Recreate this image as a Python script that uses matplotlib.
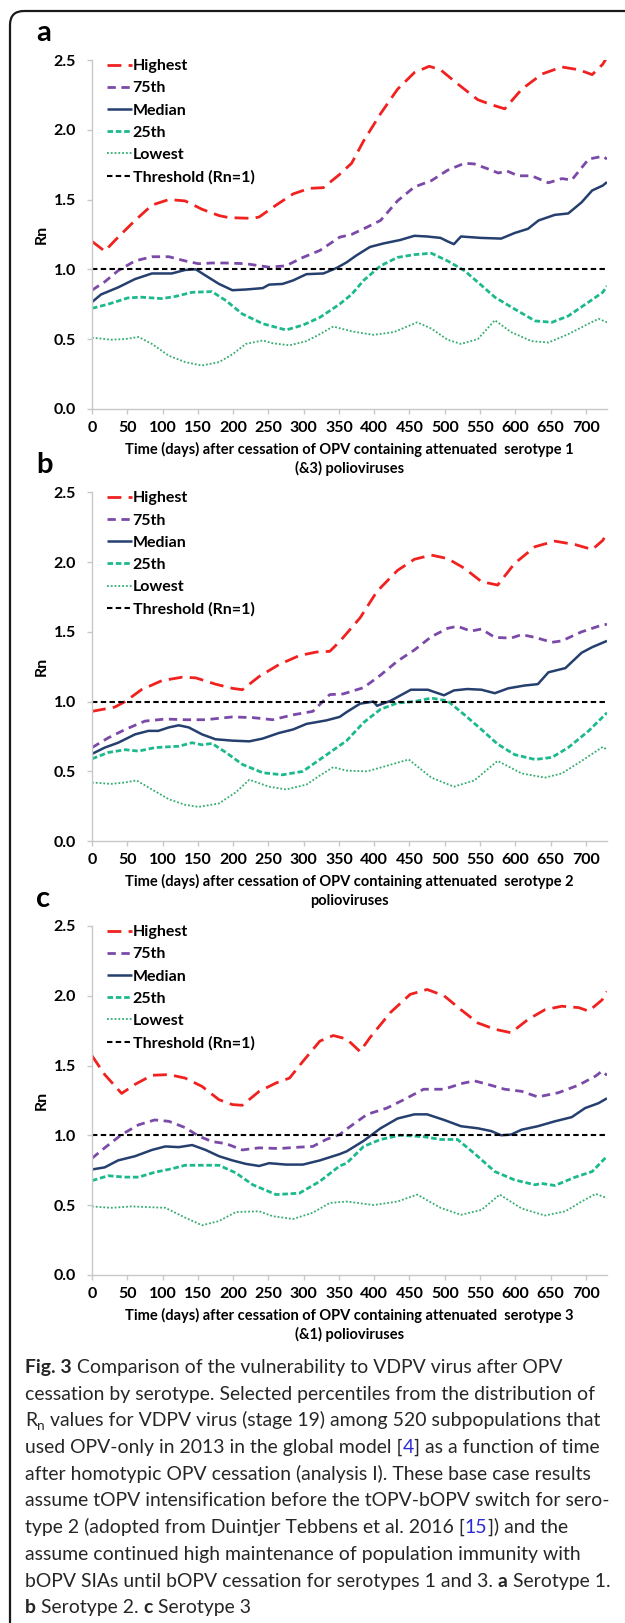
import matplotlib
matplotlib.use("Agg")
import matplotlib.pyplot as plt
from matplotlib.patches import FancyBboxPatch

plt.rcParams['font.family'] = ['Lato', 'DejaVu Sans']

W, H = 625, 1623

# ---- panel a : serotype 1 ----
A_HIGH_DAY = [0, 18, 37, 61, 85, 109, 132, 156, 180, 194, 228, 237, 261, 285, 308, 328, 351, 368, 385, 409, 433, 457,
              478, 494, 518, 547, 566, 585, 609, 638, 666, 690, 709, 724, 730]
A_HIGH = [1.20, 1.13, 1.23, 1.35, 1.46, 1.50, 1.49, 1.43, 1.385, 1.37, 1.365, 1.375, 1.46, 1.54, 1.58, 1.585, 1.68, 1.76,
          1.92, 2.115, 2.29, 2.41, 2.455, 2.43, 2.33, 2.215, 2.18, 2.15, 2.29, 2.40, 2.45, 2.43, 2.395, 2.47, 2.52]
A_P75_DAY = [0, 18, 37, 61, 85, 109, 132, 151, 170, 190, 218, 251, 275, 299, 323, 351, 368, 385, 409, 433, 457, 481,
             504, 528, 542, 561, 576, 588, 604, 623, 647, 666, 680, 704, 724, 730]
A_P75 = [0.85, 0.91, 0.99, 1.06, 1.09, 1.09, 1.06, 1.04, 1.045, 1.045, 1.04, 1.015, 1.025, 1.085, 1.135, 1.23, 1.25,
         1.29, 1.35, 1.49, 1.59, 1.635, 1.71, 1.76, 1.755, 1.72, 1.69, 1.705, 1.67, 1.67, 1.62, 1.65, 1.64, 1.79, 1.81,
         1.79]
A_MED_DAY = [0, 13, 37, 61, 85, 113, 132, 147, 161, 180, 199, 218, 242, 251, 270, 285, 304, 328, 347, 361, 375, 394,
             413, 437, 457, 475, 494, 504, 513, 523, 551, 580, 599, 618, 633, 656, 675, 694, 709, 724, 730]
A_MED = [0.765, 0.82, 0.87, 0.93, 0.97, 0.97, 0.995, 1.0, 0.955, 0.895, 0.85, 0.855, 0.865, 0.89, 0.895, 0.92, 0.965,
         0.97, 1.01, 1.05, 1.10, 1.16, 1.185, 1.21, 1.24, 1.235, 1.225, 1.20, 1.18, 1.235, 1.225, 1.22, 1.26, 1.29,
         1.35, 1.39, 1.40, 1.48, 1.565, 1.60, 1.625]
A_P25_DAY = [0, 23, 51, 70, 99, 118, 142, 170, 190, 213, 242, 275, 299, 323, 351, 368, 385, 409, 433, 457, 481, 504,
             528, 552, 571, 599, 628, 652, 675, 704, 724, 730]
A_P25 = [0.72, 0.75, 0.795, 0.80, 0.79, 0.805, 0.835, 0.84, 0.775, 0.68, 0.61, 0.565, 0.60, 0.655, 0.75, 0.82, 0.92,
         1.025, 1.085, 1.105, 1.115, 1.06, 0.99, 0.885, 0.80, 0.715, 0.63, 0.62, 0.665, 0.765, 0.835, 0.88]
A_LOW_DAY = [0, 27, 47, 66, 85, 109, 132, 156, 180, 199, 218, 242, 256, 280, 304, 323, 342, 368, 399, 428, 461, 481,
             504, 523, 547, 571, 594, 623, 647, 675, 704, 718, 730]
A_LOW = [0.51, 0.495, 0.50, 0.515, 0.465, 0.38, 0.335, 0.31, 0.335, 0.39, 0.465, 0.49, 0.47, 0.455, 0.485, 0.535,
         0.59, 0.555, 0.53, 0.55, 0.62, 0.575, 0.495, 0.465, 0.50, 0.635, 0.55, 0.485, 0.475, 0.535, 0.61, 0.645, 0.62]

# ---- panel b : serotype 2 ----
B_HIGH_DAY = [0, 32, 47, 70, 99, 128, 147, 175, 199, 213, 237, 265, 294, 318, 337, 351, 380, 404, 433, 457, 481, 504,
              528, 552, 575, 599, 628, 656, 685, 709, 724, 730]
B_HIGH = [0.93, 0.96, 1.0, 1.085, 1.15, 1.175, 1.17, 1.125, 1.095, 1.085, 1.18, 1.265, 1.33, 1.355, 1.36, 1.43, 1.60,
          1.79, 1.94, 2.02, 2.05, 2.025, 1.955, 1.86, 1.835, 1.99, 2.11, 2.15, 2.125, 2.09, 2.155, 2.21]
B_P75_DAY = [0, 23, 47, 75, 104, 132, 161, 199, 228, 256, 285, 313, 337, 356, 385, 409, 433, 457, 481, 504, 518, 537,
             552, 571, 594, 609, 628, 652, 666, 694, 718, 730]
B_P75 = [0.67, 0.74, 0.80, 0.86, 0.875, 0.87, 0.87, 0.89, 0.885, 0.87, 0.905, 0.93, 1.05, 1.055, 1.10, 1.19, 1.29,
         1.37, 1.465, 1.525, 1.54, 1.505, 1.52, 1.46, 1.455, 1.48, 1.46, 1.425, 1.435, 1.50, 1.54, 1.555]
B_MED_DAY = [0, 18, 37, 61, 80, 94, 109, 123, 137, 156, 175, 199, 223, 242, 265, 285, 304, 332, 351, 361, 380, 399,
             404, 423, 452, 476, 499, 513, 532, 552, 571, 590, 613, 632, 647, 671, 694, 709, 730]
B_MED = [0.625, 0.67, 0.705, 0.765, 0.79, 0.79, 0.815, 0.83, 0.815, 0.765, 0.73, 0.72, 0.715, 0.735, 0.775, 0.80,
         0.84, 0.865, 0.89, 0.925, 0.985, 1.0, 0.97, 1.005, 1.085, 1.085, 1.045, 1.08, 1.09, 1.085, 1.06, 1.095, 1.115,
         1.125, 1.21, 1.24, 1.35, 1.39, 1.435]
B_P25_DAY = [0, 23, 47, 66, 89, 123, 142, 156, 170, 190, 213, 242, 270, 299, 323, 347, 361, 385, 409, 433, 457, 481,
             504, 528, 552, 575, 599, 628, 652, 675, 704, 730]
B_P25 = [0.59, 0.635, 0.655, 0.645, 0.67, 0.68, 0.705, 0.69, 0.70, 0.635, 0.55, 0.49, 0.475, 0.50, 0.585, 0.67, 0.72,
         0.85, 0.945, 0.99, 1.0, 1.025, 1.005, 0.905, 0.80, 0.695, 0.62, 0.585, 0.60, 0.67, 0.79, 0.92]
B_LOW_DAY = [0, 27, 47, 63, 85, 109, 132, 151, 180, 204, 223, 251, 275, 304, 323, 342, 361, 390, 418, 449, 481, 513,
             542, 575, 609, 642, 666, 694, 724, 730]
B_LOW = [0.42, 0.41, 0.42, 0.435, 0.37, 0.30, 0.26, 0.245, 0.27, 0.35, 0.44, 0.39, 0.37, 0.405, 0.47, 0.53, 0.505,
         0.50, 0.54, 0.585, 0.455, 0.39, 0.435, 0.575, 0.485, 0.455, 0.485, 0.575, 0.675, 0.655]

# ---- panel c : serotype 3 ----
C_HIGH_DAY = [0, 18, 42, 61, 85, 109, 132, 156, 180, 199, 213, 237, 261, 280, 299, 323, 342, 361, 380, 394, 423, 451,
              475, 499, 523, 547, 571, 594, 618, 642, 666, 690, 704, 723, 730]
C_HIGH = [1.57, 1.435, 1.30, 1.365, 1.43, 1.435, 1.41, 1.35, 1.255, 1.22, 1.215, 1.315, 1.375, 1.41, 1.53, 1.675,
          1.715, 1.69, 1.60, 1.70, 1.88, 2.01, 2.045, 2.0, 1.90, 1.805, 1.76, 1.735, 1.83, 1.90, 1.925, 1.915, 1.89,
          1.97, 2.03]
C_P75_DAY = [0, 18, 42, 66, 89, 109, 132, 151, 170, 190, 213, 237, 265, 294, 313, 332, 351, 361, 390, 418, 442, 470,
             499, 523, 542, 561, 585, 609, 632, 661, 690, 714, 723, 730]
C_P75 = [0.835, 0.91, 1.005, 1.075, 1.11, 1.10, 1.055, 0.995, 0.955, 0.94, 0.895, 0.91, 0.905, 0.915, 0.92, 0.97,
         1.005, 1.045, 1.15, 1.195, 1.255, 1.33, 1.33, 1.37, 1.39, 1.365, 1.33, 1.315, 1.275, 1.305, 1.36, 1.425, 1.46,
         1.43]
C_MED_DAY = [0, 18, 37, 61, 85, 104, 123, 142, 161, 180, 199, 218, 237, 251, 275, 299, 323, 351, 361, 385, 409, 433,
             457, 475, 499, 523, 547, 566, 580, 594, 609, 632, 656, 680, 699, 718, 730]
C_MED = [0.755, 0.77, 0.82, 0.85, 0.895, 0.92, 0.915, 0.93, 0.895, 0.85, 0.82, 0.795, 0.78, 0.80, 0.79, 0.79, 0.82,
         0.865, 0.885, 0.96, 1.05, 1.12, 1.15, 1.15, 1.11, 1.065, 1.05, 1.03, 1.0, 1.005, 1.04, 1.065, 1.10, 1.13,
         1.195, 1.23, 1.265]
C_P25_DAY = [0, 23, 47, 66, 89, 113, 132, 180, 204, 228, 261, 294, 323, 351, 361, 385, 409, 437, 470, 494, 518, 542,
             571, 599, 628, 637, 656, 685, 709, 730]
C_P25 = [0.675, 0.71, 0.70, 0.70, 0.735, 0.76, 0.785, 0.785, 0.73, 0.645, 0.575, 0.585, 0.67, 0.78, 0.80, 0.92, 0.97,
         1.0, 0.99, 0.97, 0.97, 0.87, 0.74, 0.68, 0.645, 0.655, 0.64, 0.70, 0.74, 0.85]
C_LOW_DAY = [0, 27, 56, 104, 132, 156, 180, 204, 237, 256, 285, 313, 337, 361, 399, 433, 461, 494, 523, 552, 578, 609,
             642, 671, 694, 714, 730]
C_LOW = [0.49, 0.48, 0.49, 0.48, 0.41, 0.355, 0.385, 0.45, 0.455, 0.42, 0.40, 0.445, 0.515, 0.525, 0.50, 0.525, 0.575,
         0.48, 0.43, 0.465, 0.575, 0.475, 0.425, 0.455, 0.525, 0.58, 0.55]

THRESHOLD = 1.0
X_TICKS = list(range(0, 701, 50))
Y_TICKS = [0.0, 0.5, 1.0, 1.5, 2.0, 2.5]
SERIES_NAMES = ["Highest", "75th", "Median", "25th", "Lowest"]
PANEL_LETTERS = ["a", "b", "c"]
XLABELS = [("Time (days) after cessation of OPV containing attenuated  serotype 1", "(&3) polioviruses"),
           ("Time (days) after cessation of OPV containing attenuated  serotype 2", "polioviruses"),
           ("Time (days) after cessation of OPV containing attenuated  serotype 3", "(&1) polioviruses")]

panels = [
    [(A_HIGH_DAY, A_HIGH), (A_P75_DAY, A_P75), (A_MED_DAY, A_MED), (A_P25_DAY, A_P25), (A_LOW_DAY, A_LOW)],
    [(B_HIGH_DAY, B_HIGH), (B_P75_DAY, B_P75), (B_MED_DAY, B_MED), (B_P25_DAY, B_P25), (B_LOW_DAY, B_LOW)],
    [(C_HIGH_DAY, C_HIGH), (C_P75_DAY, C_P75), (C_MED_DAY, C_MED), (C_P25_DAY, C_P25), (C_LOW_DAY, C_LOW)],
]

styles = [
    dict(color="#F0211E", lw=2.0, dashes=(5, 2.6)),
    dict(color="#7B4AA8", lw=2.0, dashes=(3, 2.0)),
    dict(color="#253F6E", lw=1.8),
    dict(color="#1CB98D", lw=2.0, dashes=(2, 1.0)),
    dict(color="#33AD6E", lw=1.3, dashes=(1, 1.1)),
]

fig = plt.figure(figsize=(W / 100, H / 100), dpi=100)

# pixel-space overlay for frame, labels and caption
pix = fig.add_axes([0, 0, 1, 1], zorder=5)
pix.set_xlim(0, W)
pix.set_ylim(H, 0)
pix.axis("off")
pix.patch.set_alpha(0)

pix.add_patch(FancyBboxPatch((10, 11), 700, 1700, boxstyle="round,pad=0,rounding_size=14",
                             fc="none", ec="#1a1a1a", lw=1.6))

ax_left, ax_right = 92, 607
panel_tops = [60, 492.3, 926]
panel_h = 348.8

for i, series in enumerate(panels):
    top = panel_tops[i]
    bottom = top + panel_h
    ax = fig.add_axes([ax_left / W, 1 - bottom / H, (ax_right - ax_left) / W, panel_h / H])
    for (days, vals), name, st in zip(series, SERIES_NAMES, styles):
        kw = dict(st)
        d = kw.pop("dashes", None)
        line, = ax.plot(days, vals, label=name, solid_capstyle="butt", **kw)
        if d:
            line.set_dashes(d)
    ax.axhline(THRESHOLD, color="black", lw=1.5, dashes=(2.6, 1.6), label="Threshold (Rn=1)")

    ax.set_xlim(0, 730)
    ax.set_ylim(0, 2.5)
    ax.set_xticks(X_TICKS)
    ax.set_yticks(Y_TICKS)
    ax.set_yticklabels([f"{v:.1f}" for v in Y_TICKS])
    for s in ["top", "right"]:
        ax.spines[s].set_visible(False)
    for s in ["left", "bottom"]:
        ax.spines[s].set_color("#C8C8C8")
        ax.spines[s].set_linewidth(1.0)
    ax.tick_params(axis="both", direction="out", length=3.6, width=1, color="#C8C8C8",
                   labelsize=11.5)
    ax.tick_params(axis="x", pad=5)
    ax.tick_params(axis="y", pad=8)
    for lab in ax.get_xticklabels() + ax.get_yticklabels():
        lab.set_fontweight("bold")
    ax.patch.set_alpha(0)

    ax.legend(loc="upper left", bbox_to_anchor=(107 / W, 1 - (top - 1) / H),
              bbox_transform=fig.transFigure, frameon=False,
              prop={"weight": "bold", "size": 11.5}, handlelength=1.55, handletextpad=0.05,
              labelspacing=0.5, borderpad=0, borderaxespad=0)

    pix.text(36, top - 27, PANEL_LETTERS[i], fontsize=21, fontweight="bold", ha="left", va="center")
    pix.text(42, top + panel_h / 2, "Rn", fontsize=11.5, fontweight="bold", rotation=90,
             ha="center", va="center")
    line1, line2 = XLABELS[i]
    cx = (ax_left + ax_right) / 2
    pix.text(cx, bottom + 40.5, line1, fontsize=10.5, fontweight="bold", ha="center", va="center")
    pix.text(cx, bottom + 59.5, line2, fontsize=10.5, fontweight="bold", ha="center", va="center")

# caption, drawn run by run so colours and weights can change inside a line
renderer = fig.canvas.get_renderer()
CAP_COLOR = "#262626"
LINK = "#2b2bd6"


def text_width(s, size, weight):
    t = pix.text(0, 0, s, fontsize=size, fontweight=weight)
    w = t.get_window_extent(renderer).width
    t.remove()
    return w


# size the caption so that a full line spans the text column
CAP_SIZE = 10 * 573 / text_width("cessation by serotype. Selected percentiles from the distribution of", 10, "normal")


def draw_runs(x, y, runs):
    for run in runs:
        s, weight, color = run[:3]
        size = CAP_SIZE * (run[3] if len(run) > 3 else 1.0)
        dy = run[4] if len(run) > 4 else 0
        lead = len(s) - len(s.lstrip(" "))
        s = s.lstrip(" ")
        if lead:
            x += lead * (text_width("a a", size, "normal") - text_width("aa", size, "normal"))
        pix.text(x, y + dy, s, fontsize=size, fontweight=weight, color=color, ha="left", va="baseline")
        x += text_width(s, size, weight)


caption = [
    [("Fig. 3", "bold", CAP_COLOR), (" Comparison of the vulnerability to VDPV virus after OPV", "normal", CAP_COLOR)],
    [("cessation by serotype. Selected percentiles from the distribution of", "normal", CAP_COLOR)],
    [("R", "normal", CAP_COLOR), ("n", "normal", CAP_COLOR, 0.7, 4),
     (" values for VDPV virus (stage 19) among 520 subpopulations that", "normal", CAP_COLOR)],
    [("used OPV-only in 2013 in the global model [", "normal", CAP_COLOR), ("4", "normal", LINK),
     ("] as a function of time", "normal", CAP_COLOR)],
    [("after homotypic OPV cessation (analysis I). These base case results", "normal", CAP_COLOR)],
    [("assume tOPV intensification before the tOPV-bOPV switch for sero-", "normal", CAP_COLOR)],
    [("type 2 (adopted from Duintjer Tebbens et al. 2016 [", "normal", CAP_COLOR), ("15", "normal", LINK),
     ("]) and the", "normal", CAP_COLOR)],
    [("assume continued high maintenance of population immunity with", "normal", CAP_COLOR)],
    [("bOPV SIAs until bOPV cessation for serotypes 1 and 3.", "normal", CAP_COLOR), (" a", "bold", CAP_COLOR),
     (" Serotype 1.", "normal", CAP_COLOR)],
    [("b", "bold", CAP_COLOR), (" Serotype 2.", "normal", CAP_COLOR), (" c", "bold", CAP_COLOR),
     (" Serotype 3", "normal", CAP_COLOR)],
]

for k, runs in enumerate(caption):
    draw_runs(25, 1373 + 26.7 * k, runs)

fig.savefig("out.png", dpi=100)
